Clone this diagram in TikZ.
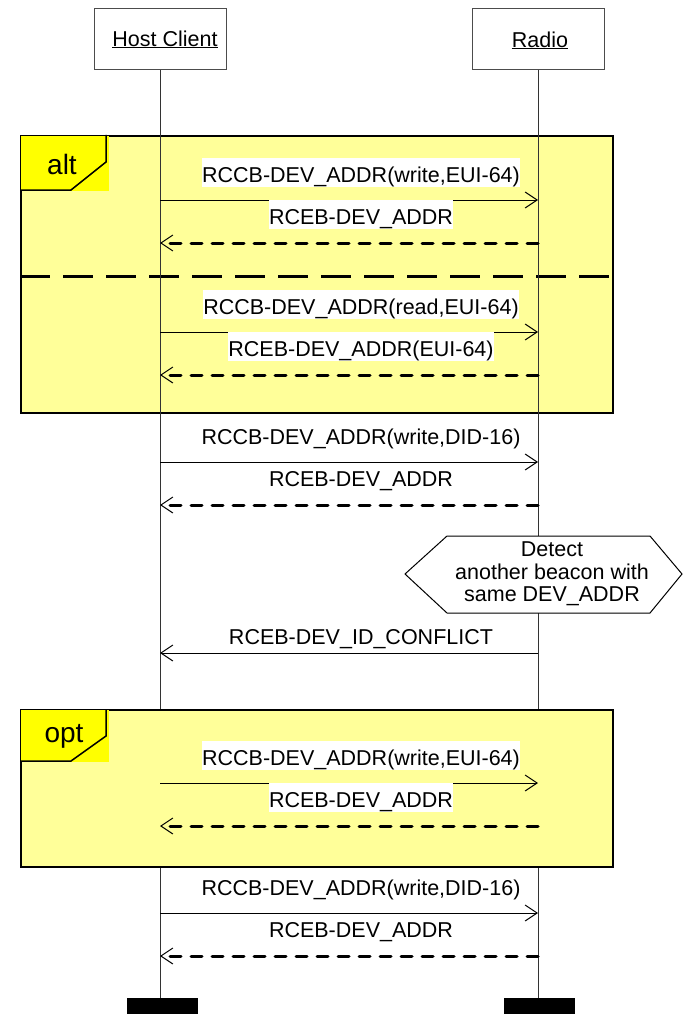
\documentclass[tikz,border=0pt]{standalone}
\usepackage{fontspec}
\setmainfont{Liberation Sans}
\usetikzlibrary{arrows.meta}
\definecolor{fragfill}{RGB}{255,255,153}
\definecolor{tabfill}{RGB}{255,255,0}
\tikzset{%
    every node/.style={%
        font=\fontsize{21.5}{22.5}\selectfont%
    },%
    actor/.style={%
        draw=black!70,%
        line width=1pt,%
        minimum width=132pt,%
        minimum height=61pt%
    },%
    actorname/.style={%
        inner sep=0pt,%
        anchor=base%
    },%
    lifeline/.style={%
        draw=black!80,%
        line width=1pt%
    },%
    lifeend/.style={%
        fill=black,%
        inner sep=0pt,%
        minimum width=71pt,%
        minimum height=16pt%
    },%
    fragment/.style={%
        draw=black,%
        fill=fragfill,%
        line width=2pt,%
        inner sep=0pt,%
        minimum width=592pt,%
        minimum height=#1%
    },%
    tag/.style={%
        font=\fontsize{28}{30}\selectfont%
    },%
    call/.style={%
        draw=black,%
        line width=1pt,%
        -{Straight Barb[length=12pt,width=16pt]}%
    },%
    reply/.style={%
        draw=black,%
        line width=3pt,%
        line cap=round,%
        dash pattern=on 11pt off 10pt,%
        -{Straight Barb[length=12pt,width=16pt,line width=1pt]}%
    },%
    msg/.style={%
        inner sep=0pt,%
        text height=25pt,%
        text depth=4pt,%
        anchor=south,%
        yshift=13pt,%
        xshift=12pt%
    },%
    inmsg/.style={%
        msg,%
        fill=white%
    }%
}

\begin{document}
\begin{tikzpicture}[x=1pt,y=-1pt]
    \useasboundingbox (0,0) rectangle (683,1014);
    \node[actor] (host) at (160,39.5) {};
    \node[actorname] (host-text) at (165,47) {Host Client};
    \draw[line width=0.8pt] (host-text.base west) -- (host-text.base east);
    \node[actor] (radio) at (538,39.5) {};
    \node[actorname] (radio-text) at (540,48) {Radio};
    \draw[line width=0.8pt] (radio-text.base west) -- (radio-text.base east);
    \node[lifeend] (host-end) at (162.5,1006) {};
    \node[lifeend] (radio-end) at (539.5,1006) {};

    \node[fragment=277pt] (alt) at (317,274.5) {};
    \fill[tabfill] ([shift={(1,1)}]alt.north west) rectangle ++(88,55);
    \draw[line width=1.5pt] (alt.north west) ++(86,0) -- ++(0,27) -- ++(-35,28) -- ++(-51,0);
    \node[tag] (alt-tag) at ([shift={(42,29)}]alt.north west) {alt};
    \draw[line width=3pt, dash pattern=on 30pt off 13pt] (alt.west |- 0,276) coordinate (alt-sep) -- (alt.east |- alt-sep);

    \draw[lifeline] (host.south) -- (host.south |- host-end.north);
    \draw[lifeline] (radio.south) -- (radio.south |- radio-end.north);

    \node[fragment=157pt] (opt) at (317,788.5) {};
    \fill[tabfill] ([shift={(1,1)}]opt.north west) rectangle ++(88,52);
    \draw[line width=1.5pt] (opt.north west) ++(86,0) -- ++(0,27) -- ++(-35,25) -- ++(-51,0);
    \node[tag] (opt-tag) at ([shift={(44,27)}]opt.north west) {opt};

    \coordinate (host-1) at (160,200);
    \coordinate (radio-1) at (538,200);
    \coordinate (host-2) at (160,243);
    \coordinate (radio-2) at (538,243);
    \coordinate (host-3) at (160,332);
    \coordinate (radio-3) at (538,332);
    \coordinate (host-4) at (160,375);
    \coordinate (radio-4) at (538,375);
    \coordinate (host-5) at (160,462);
    \coordinate (radio-5) at (538,462);
    \coordinate (host-6) at (160,505);
    \coordinate (radio-6) at (538,505);
    \coordinate (host-7) at (160,653);
    \coordinate (radio-7) at (538,653);
    \coordinate (host-8) at (160,783);
    \coordinate (radio-8) at (538,783);
    \coordinate (host-9) at (160,826);
    \coordinate (radio-9) at (538,826);
    \coordinate (host-10) at (160,913);
    \coordinate (radio-10) at (538,913);
    \coordinate (host-11) at (160,956);
    \coordinate (radio-11) at (538,956);

    \draw[call] (host-1) -- (radio-1) node[inmsg, midway] (msg-1) {RCCB-DEV\_ADDR(write,EUI-64)};
    \draw[reply] (radio-2) -- (host-2) node[inmsg, midway] (msg-2) {RCEB-DEV\_ADDR};
    \draw[call] (host-3) -- (radio-3) node[inmsg, midway] (msg-3) {RCCB-DEV\_ADDR(read,EUI-64)};
    \draw[reply] (radio-4) -- (host-4) node[inmsg, midway] (msg-4) {RCEB-DEV\_ADDR(EUI-64)};
    \draw[call] (host-5) -- (radio-5) node[msg, midway] (msg-5) {RCCB-DEV\_ADDR(write,DID-16)};
    \draw[reply] (radio-6) -- (host-6) node[msg, midway] (msg-6) {RCEB-DEV\_ADDR};

    \draw[line width=1pt, fill=white] (405,574) -- (447,536) -- (650,536) -- (682,574) -- (650,613) -- (447,613) -- cycle;
    \node[align=center] (detect) at (552,574) {Detect\\another beacon with\\same DEV\_ADDR};

    \draw[call] (radio-7) -- (host-7) node[msg, midway, yshift=-9pt] (msg-7) {RCEB-DEV\_ID\_CONFLICT};
    \draw[call] (host-8) -- (radio-8) node[inmsg, midway] (msg-8) {RCCB-DEV\_ADDR(write,EUI-64)};
    \draw[reply] (radio-9) -- (host-9) node[inmsg, midway] (msg-9) {RCEB-DEV\_ADDR};
    \draw[call] (host-10) -- (radio-10) node[msg, midway] (msg-10) {RCCB-DEV\_ADDR(write,DID-16)};
    \draw[reply] (radio-11) -- (host-11) node[msg, midway] (msg-11) {RCEB-DEV\_ADDR};
\end{tikzpicture}
\end{document}
